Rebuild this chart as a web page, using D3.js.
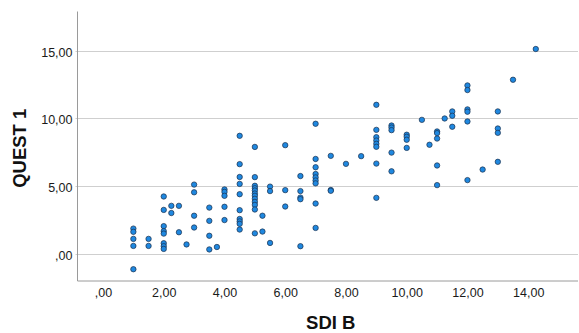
<!DOCTYPE html>
<html>
<head>
<meta charset="utf-8">
<script src="https://cdn.jsdelivr.net/npm/d3@7"></script>
<style>
  html, body { margin: 0; padding: 0; background: #fff; }
  svg { display: block; font-family: "Liberation Sans", Arial, sans-serif; }
</style>
</head>
<body>
<svg id="chart" width="579" height="333"></svg>
<script>
// SDI B (x) and QUEST 1 (y) pairs, one entry per respondent
const sdiB = [
  1, 1, 1, 1, 1,
  1.5, 1.5,
  2, 2, 2, 2, 2, 2, 2, 2,
  2.25, 2.25,
  2.5, 2.5,
  2.75,
  3, 3, 3, 3,
  3.5, 3.5, 3.5, 3.5,
  3.75,
  4, 4, 4, 4, 4,
  4.5, 4.5, 4.5, 4.5, 4.5, 4.5, 4.5, 4.5, 4.5, 4.5,
  5, 5, 5, 5, 5, 5, 5, 5, 5, 5, 5, 5,
  5.25, 5.25,
  5.5, 5.5, 5.5,
  6, 6, 6,
  6.5, 6.5, 6.5, 6.5, 6.5,
  7, 7, 7, 7, 7, 7, 7, 7, 7,
  7.5, 7.5, 7.5,
  8,
  8.5,
  9, 9, 9, 9, 9, 9, 9, 9,
  9.5, 9.5, 9.5, 9.5, 9.5,
  10, 10, 10, 10,
  10.5,
  10.75,
  11, 11, 11, 11, 11,
  11.25,
  11.5, 11.5, 11.5,
  12, 12, 12, 12, 12, 12,
  12.5,
  13, 13, 13, 13,
  13.5,
  14.25
];
const quest1 = [
  1.87, 1.63, 1.11, 0.59, -1.13,
  1.11, 0.59,
  4.24, 3.25, 2.05, 1.68, 1.5, 0.79, 0.57, 0.37,
  3.55, 3.02,
  3.55, 1.6,
  0.7,
  5.12, 4.55, 2.82, 1.95,
  3.42, 2.44, 1.34, 0.33,
  0.51,
  4.76, 4.58, 4.29, 3.48, 2.5,
  8.72, 6.63, 5.68, 5.17, 4.41, 3.23, 2.58, 2.4, 2.22, 1.8,
  7.9, 5.67, 5.03, 4.85, 4.68, 4.46, 4.29, 4.07, 3.84, 3.62, 3.28, 1.52,
  2.82, 1.65,
  4.97, 4.64, 0.81,
  8.03, 4.71, 3.5,
  5.75, 4.64, 4.16, 4.04, 0.57,
  9.61, 7.01, 6.4, 5.9, 5.65, 5.42, 5.21, 3.72, 1.92,
  7.24, 4.72, 4.66,
  6.65,
  7.22,
  11.01, 9.16, 8.62, 8.37, 8.13, 7.91, 6.67, 4.14,
  9.48, 9.33, 9.14, 7.48, 6.1,
  8.8, 8.65, 8.43, 7.83,
  9.9,
  8.06,
  9.04, 8.92, 8.52, 6.53, 5.08,
  10.0,
  10.52, 10.2, 9.39,
  12.44, 12.1, 10.67, 10.5, 9.78, 5.45,
  6.23,
  10.52, 9.26, 8.94, 6.8,
  12.86,
  15.13
];
const xTicks = [0, 2, 4, 6, 8, 10, 12, 14];
const yTicks = [0, 5, 10, 15];
const xTitle = "SDI B";
const yTitle = "QUEST 1";

const svg = d3.select("#chart");
const plot = { left: 77.5, right: 578, top: 11.5, bottom: 281 };

const x = d3.scaleLinear().domain([-0.84, 15.64]).range([plot.left, plot.right]);
const y = d3.scaleLinear().domain([-2, 17.9]).range([plot.bottom, plot.top]);

// decimal comma, SPSS style: 0 shows as ",00"
const fmt = v => (v === 0 ? ",00" : v.toFixed(2).replace(".", ","));

// horizontal gridlines
svg.append("g")
  .selectAll("line")
  .data(yTicks)
  .join("line")
  .attr("x1", plot.left - 2)
  .attr("x2", plot.right)
  .attr("y1", d => Math.round(y(d)) + 0.5)
  .attr("y2", d => Math.round(y(d)) + 0.5)
  .attr("stroke", "#cfcfcf")
  .attr("stroke-width", 1.2);

// y axis
const yAxis = d3.axisLeft(y).tickValues(yTicks).tickFormat(fmt).tickSize(0).tickPadding(5);
const gy = svg.append("g").attr("transform", `translate(${plot.left},0)`).call(yAxis);
gy.select(".domain").attr("stroke", "#9a9a9a").attr("d", `M0,${plot.top}V${plot.bottom}`);
gy.selectAll("text").attr("font-size", 12.5).attr("fill", "#1a1a1a").attr("font-family", "Liberation Sans, Arial, sans-serif").attr("dy", "0.42em");

// x axis
const xAxis = d3.axisBottom(x).tickValues(xTicks).tickFormat(fmt).tickSize(0).tickPadding(7);
const gx = svg.append("g").attr("transform", `translate(0,${plot.bottom})`).call(xAxis);
gx.select(".domain").attr("stroke", "#9a9a9a").attr("d", `M${plot.left},0H${plot.right}`);
gx.selectAll("text").attr("font-size", 12.5).attr("fill", "#1a1a1a").attr("font-family", "Liberation Sans, Arial, sans-serif");

// axis titles
svg.append("text")
  .attr("x", (plot.left + plot.right) / 2 + 3)
  .attr("y", 329)
  .attr("text-anchor", "middle")
  .attr("font-size", 18.5)
  .attr("font-weight", "bold")
  .attr("fill", "#111")
  .text(xTitle);

svg.append("text")
  .attr("transform", `translate(26,${(plot.top + plot.bottom) / 2 + 2}) rotate(-90)`)
  .attr("text-anchor", "middle")
  .attr("font-size", 18.5)
  .attr("font-weight", "bold")
  .attr("fill", "#111")
  .text(yTitle);

// points
svg.append("g")
  .selectAll("circle")
  .data(d3.range(sdiB.length))
  .join("circle")
  .attr("cx", i => x(sdiB[i]))
  .attr("cy", i => y(quest1[i]))
  .attr("r", 2.7)
  .attr("fill", "#1f88e0")
  .attr("stroke", "#1b2f4a")
  .attr("stroke-width", 0.7);
</script>
</body>
</html>
